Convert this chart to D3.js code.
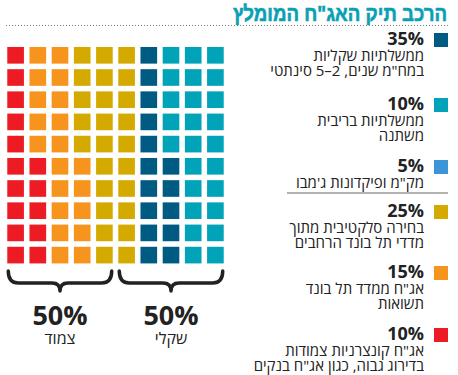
<!DOCTYPE html>
<html>
<head>
<meta charset="utf-8">
<script src="https://cdn.jsdelivr.net/npm/d3@7"></script>
<style>
  body { margin: 0; background: #fff; }
  svg { display: block; }
</style>
</head>
<body>
<div id="chart"></div>
<script>
// legend entries, top to bottom
const legendPct = ["35%", "10%", "5%", "25%", "15%", "10%"];
const legendColors = ["#005b82", "#00a3b8", "#3b95d6", "#d4aa00", "#f7941e", "#ed1c24"];
const legendLines = [
  ["ממשלתיות שקליות", "במח\"מ שנים, 2–5 סינתטי"],
  ["ממשלתיות בריבית", "משתנה"],
  ["מק\"מ ופיקדונות ג'מבו"],
  ["בחירה סלקטיבית מתוך", "מדדי תל בונד הרחבים"],
  ["אג\"ח ממדד תל בונד", "תשואות"],
  ["אג\"ח קונצרניות צמודות", "בדירוג גבוה, כגון אג\"ח בנקים"]
];

// waffle: colour groups left to right, number of cells per group in each row
const waffleGroups = ["#ed1c24", "#f7941e", "#d4aa00", "#005b82", "#00a3b8"];
const rowCounts = [
  [1, 2, 3, 1, 3],
  [1, 2, 3, 1, 3],
  [1, 2, 3, 1, 3],
  [1, 2, 3, 1, 3],
  [1, 2, 3, 1, 3],
  [2, 2, 2, 2, 2],
  [2, 2, 2, 2, 2],
  [2, 2, 2, 2, 2],
  [2, 2, 2, 2, 2],
  [2, 2, 2, 2, 2]
];

const splitPct = ["50%", "50%"];
const splitLabels = ["צמוד", "שקלי"];
const title = "הרכב תיק האג\"ח המומלץ";

const width = 458, height = 375;
const textFont = "'Open Sans', 'DejaVu Sans', sans-serif";

const svg = d3.select("#chart").append("svg")
  .attr("width", width)
  .attr("height", height);

// title + dotted rule
svg.append("text")
  .attr("x", 447)
  .attr("y", 20.5)
  .attr("direction", "rtl")
  .attr("text-anchor", "start")
  .attr("font-family", "'Liberation Sans', Arial, sans-serif")
  .attr("font-weight", "bold")
  .attr("font-size", 21.5)
  .attr("textLength", 214)
  .attr("lengthAdjust", "spacingAndGlyphs")
  .attr("fill", "#0aa0b4")
  .attr("stroke", "#0aa0b4")
  .attr("stroke-width", 0.6)
  .text(title);

svg.append("line")
  .attr("x1", 6).attr("x2", 448)
  .attr("y1", 25.5).attr("y2", 25.5)
  .attr("stroke", "#777")
  .attr("stroke-width", 1)
  .attr("stroke-dasharray", "1,2");

// waffle cells
const cells = [];
rowCounts.forEach((counts, r) => {
  let c = 0;
  counts.forEach((n, g) => {
    for (let k = 0; k < n; k++) cells.push({ row: r, col: c++, color: waffleGroups[g] });
  });
});

const xBand = d3.scaleBand()
  .domain(d3.range(10))
  .range([4.5, 226.5])
  .paddingInner(0.25)
  .paddingOuter(0.125);

const yBand = d3.scaleBand()
  .domain(d3.range(rowCounts.length))
  .range([44.2, 266.2])
  .paddingInner(0.25)
  .paddingOuter(0.125);

svg.selectAll(".cell")
  .data(cells)
  .enter().append("rect")
  .attr("class", "cell")
  .attr("x", d => xBand(d.col))
  .attr("y", d => yBand(d.row))
  .attr("width", xBand.bandwidth())
  .attr("height", yBand.bandwidth())
  .attr("fill", d => d.color);

// braces under the two halves
const spans = [[0, 4], [5, 9]];
const yTop = 271, yMid = 283, yTip = 291;
const brace = ([a, b]) => {
  const x0 = xBand(a) + 1, x1 = xBand(b) + xBand.bandwidth() - 1, xm = (x0 + x1) / 2;
  return `M${x0},${yTop} Q${x0},${yMid} ${x0 + 10},${yMid} L${xm - 8},${yMid} Q${xm},${yMid} ${xm},${yTip}` +
    ` Q${xm},${yMid} ${xm + 8},${yMid} L${x1 - 10},${yMid} Q${x1},${yMid} ${x1},${yTop}`;
};

svg.selectAll(".brace")
  .data(spans)
  .enter().append("path")
  .attr("class", "brace")
  .attr("d", brace)
  .attr("fill", "none")
  .attr("stroke", "#222")
  .attr("stroke-width", 3.5)
  .attr("stroke-linecap", "round")
  .attr("stroke-linejoin", "round");

const spanCenter = ([a, b]) => (xBand(a) + xBand(b) + xBand.bandwidth()) / 2;

svg.selectAll(".split-pct")
  .data(spans)
  .enter().append("text")
  .attr("class", "split-pct")
  .attr("x", spanCenter)
  .attr("y", 325)
  .attr("text-anchor", "middle")
  .attr("font-family", textFont)
  .attr("font-weight", "bold")
  .attr("font-size", 27)
  .attr("fill", "#222")
  .text((d, i) => splitPct[i]);

svg.selectAll(".split-label")
  .data(spans)
  .enter().append("text")
  .attr("class", "split-label")
  .attr("x", spanCenter)
  .attr("y", 344)
  .attr("text-anchor", "middle")
  .attr("direction", "rtl")
  .attr("font-family", textFont)
  .attr("font-size", 16)
  .attr("fill", "#222")
  .text((d, i) => splitLabels[i]);

// legend
const legendTop = [45, 110, 172, 217, 278, 340];
const lineGap = 15.5;

const items = svg.selectAll(".legend-item")
  .data(legendPct)
  .enter().append("g")
  .attr("class", "legend-item")
  .attr("transform", (d, i) => `translate(0,${legendTop[i]})`);

items.append("rect")
  .attr("x", 434)
  .attr("y", -12)
  .attr("width", 14)
  .attr("height", 14)
  .attr("fill", (d, i) => legendColors[i]);

items.append("text")
  .attr("x", 424)
  .attr("y", 0)
  .attr("text-anchor", "end")
  .attr("font-family", textFont)
  .attr("font-weight", "bold")
  .attr("font-size", 18)
  .attr("fill", "#222")
  .text(d => d);

items.each(function (d, i) {
  d3.select(this).selectAll(".desc")
    .data(legendLines[i])
    .enter().append("text")
    .attr("class", "desc")
    .attr("x", 424)
    .attr("y", (t, j) => lineGap * (j + 1))
    .attr("direction", "rtl")
    .attr("text-anchor", "start")
    .attr("font-family", textFont)
    .attr("font-size", 15)
    .attr("fill", "#222")
    .text(t => t);
});

// separator between the shekel and indexed groups
svg.append("line")
  .attr("x1", 287).attr("x2", 448)
  .attr("y1", 193).attr("y2", 193)
  .attr("stroke", "#666")
  .attr("stroke-width", 1.2);
</script>
</body>
</html>
